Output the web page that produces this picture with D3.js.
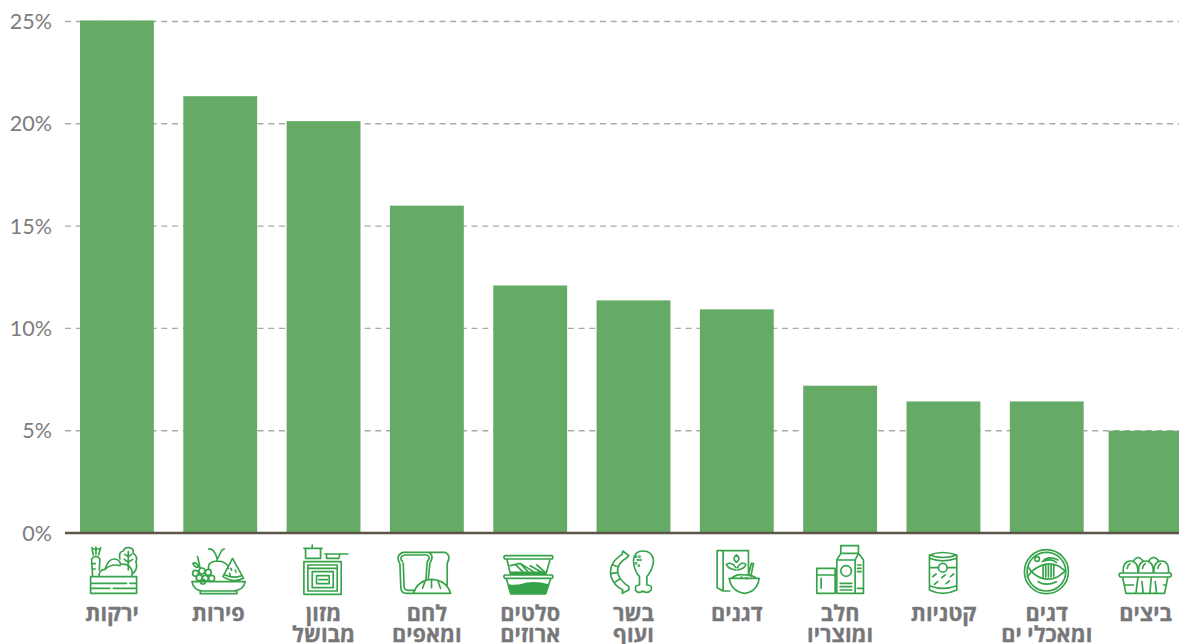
<!DOCTYPE html>
<html lang="he">
<head>
<meta charset="utf-8">
<script src="https://cdn.jsdelivr.net/npm/d3@7"></script>
<style>
  html, body { margin: 0; padding: 0; background: #fff; overflow: hidden; }
  svg { display: block; }
  .tick text { font-family: Lato, sans-serif; font-size: 21.5px; fill: #7d7d80; }
  .cat { font-family: "Open Sans", "Liberation Sans", sans-serif; font-size: 21.7px; font-weight: 700; fill: #77777a; stroke: #77777a; stroke-width: 0.3; }
  .icon { fill: none; stroke: #36a34a; stroke-width: 5; stroke-linejoin: round; stroke-linecap: round; }
</style>
</head>
<body>
<svg></svg>
<script>
// categories, two-line labels split with |
const categories = ["ירקות", "פירות", "מזון|מבושל", "לחם|ומאפים", "סלטים|ארוזים", "בשר|ועוף", "דגנים", "חלב|ומוצריו", "קטניות", "דגים|ומאכלי ים", "ביצים"];
const values = [25.05, 21.35, 20.13, 16.0, 12.1, 11.37, 10.93, 7.2, 6.43, 6.43, 5.0];
const tickValues = [0, 5, 10, 15, 20, 25];

// icons are drawn in 3x units, anchored on the middle of their bar
const icons = [
  { ax: 141, d: "M62 125H200V175H62Z M62 145H170M180 145H200 M62 160H120M130 160H200 M68 125L65 72Q78 56 90 72L88 105 M70 60L66 38 M78 58V36 M86 60L92 38 M68 42H92 M65 86H76 M66 102H76 M88 125Q85 105 105 103Q115 70 135 72Q150 75 152 88Q175 85 182 100Q190 110 185 125 M105 103Q125 85 150 92 M150 72Q145 50 160 48Q165 35 178 38Q192 40 190 55Q205 65 198 80Q205 100 190 115 M175 50V105 M175 65L165 58 M175 65L185 58 M175 82L163 73 M175 82L188 73" },
  { ax: 450, d: "M365 140H525Q520 165 490 168H395Q370 165 365 140Z M390 168V176H500V168 M382 65L390 100 M368 85Q378 80 385 95Q375 100 368 85 M415 100Q412 80 440 78Q470 78 475 100 M440 75L455 45L462 42 M415 42Q432 40 440 70 M487 70L520 130Q490 145 458 125Z M465 120Q490 132 513 122 M482 100l2 6 M495 105l2 6 M478 115l2 5", circles: [[376, 115, 9], [395, 108, 9], [414, 112, 9], [387, 128, 9], [405, 130, 9], [424, 130, 9], [398, 140, 7]] },
  { ax: 759, d: "M700 80H812V178H700Z M712 90H800V168H712Z M712 100H800 M725 110H788V158H725Z M738 122H776V146H738Z M745 134H770 M705 40H750V70H705Z M700 40H755 M725 40V30 M763 57H832 M768 58V70H805L808 58" },
  { ax: 1071, d: "M990 85Q975 60 1000 52H1075Q1095 60 1080 85L1075 135 M990 85L993 160Q995 175 1010 175H1035 M1075 52H1125Q1145 60 1132 85V150 M998 80Q985 65 1005 60H1070Q1085 65 1072 80L1068 135 M1000 85L1003 158Q1005 166 1015 166H1036 M1030 175Q1045 135 1085 133Q1130 135 1142 175Z M1065 140L1058 160 M1085 138V158 M1105 140L1112 160" },
  { ax: 180, d: "M104 62H246Q250 67 246 72H104Q98 67 104 62Z M110 72L120 115H228L240 72 M104 120H246Q250 125 246 130H104Q98 125 104 120Z M108 130L122 176H226L242 130 M120 92L150 85L175 112 M135 88L160 112 M150 85L190 110 M180 92L215 112 M200 90L225 112 M122 112H222", fill: "M115 150Q140 155 170 145Q200 140 235 150L226 176H122Z" },
  { ax: 492, d: "M458 58Q415 85 425 125Q432 150 460 165 M472 68Q440 85 445 115Q450 135 478 155 M458 58L460 48L478 62L472 68 M460 165L458 175L478 165V155 M430 90l15 5 M427 115l15 -2 M438 140l13 -8 M520 48Q495 48 492 75Q492 105 510 125V150Q495 150 498 165Q505 178 520 168Q535 178 545 165Q550 150 532 150V125Q552 100 552 75Q548 48 520 48Z", dots: [[500, 65], [510, 65], [505, 75], [513, 75], [500, 85], [508, 92]] },
  { ax: 801, d: "M742 47H836V120 M742 47V158L760 168H780 M760 47V168 M800 82Q785 70 800 60Q815 70 800 82 M798 105Q770 100 770 88Q785 78 798 98 M803 105Q828 100 828 88Q812 78 803 98 M778 130H868Q862 170 825 175Q785 170 778 130Z M785 130Q800 115 825 120Q845 118 860 130 M835 122L845 85L851 86L843 124", dots: [[815, 128], [830, 130]] },
  { ax: 120, d: "M50 100H105V175H50Z M53 120H102 M63 130V160 M122 32H175V55H122Z M122 55L110 75V175H190V75L175 55 M110 75H165L175 55 M165 75V175 M120 145H155 M120 155H155 M120 165H155 M172 90H183 M172 100H183 M172 110H183 M172 160H190", circles: [[138, 108, 16]] },
  { ax: 432, d: "M390 60Q430 45 472 60V165Q430 185 390 165Z M390 70Q430 85 472 70 M390 60Q430 75 472 60 M390 152Q430 168 472 152 M390 98H417 M443 98H472 M400 125l10 -8 M427 128l10 -8 M453 125l10 -8 M405 148l10 -8 M440 146l10 -8", circles: [[430, 98, 13]] },
  { ax: 741, d: "M695 110Q735 75 775 92L797 108L775 125Q730 145 695 110 M695 110L685 95 M695 110L683 125 M730 92V125 M738 90V126 M746 90V126 M754 90V125 M762 90V124 M728 80Q745 60 775 75 M735 78Q755 70 770 82 M715 140Q740 155 770 140", circles: [[740, 110, 66], [740, 110, 58], [712, 72, 7]] },
  { ax: 1041, d: "M965 114H1115Q1122 120 1115 126H965Q958 120 965 114Z M972 126L982 175H1098L1108 126 M1018 128L1012 175 M1030 140L1034 175 M1058 128L1054 175 M1070 140L1074 175 M978 150H1005 M1095 150H1102 M974 114Q972 78 996 78Q1019 78 1018 114 M1020 114Q1018 78 1042 78Q1065 78 1064 114 M1066 114Q1064 78 1089 78Q1112 78 1110 114 M1004 79Q1018 56 1034 79 M1050 79Q1065 56 1081 79 M986 100Q987 90 994 86 M1032 100Q1033 90 1040 86 M1078 100Q1079 90 1086 86" }
];

const width = 1179, height = 644;
const svg = d3.select("svg").attr("width", width).attr("height", height);

const x = d3.scaleBand().domain(categories).range([80, 1187]).paddingInner(0.285).paddingOuter(0);
const y = d3.scaleLinear().domain([0, 25]).range([533, 21.5]);

// the last bar sits a bit closer to its neighbour in the original
const last = categories[categories.length - 1];
const barX = c => x(c) - (c === last ? 4.5 : 0);
const mid = c => barX(c) + x.bandwidth() / 2;

const yAxis = d3.axisLeft(y)
  .tickValues(tickValues)
  .tickFormat(d => d + "%")
  .tickSize(-(width - 65))
  .tickPadding(13)
  .offset(0);

const axisG = svg.append("g").attr("transform", "translate(65,0)").call(yAxis);
axisG.select(".domain").remove();
axisG.selectAll(".tick line")
  .attr("stroke", "#a9a9a9")
  .attr("stroke-width", 1.4)
  .attr("stroke-dasharray", "6 4.7");
axisG.selectAll(".tick text").attr("dy", "0.35em");

svg.selectAll("rect.bar")
  .data(categories)
  .enter()
  .append("rect")
  .attr("class", "bar")
  .attr("x", d => barX(d))
  .attr("y", (d, i) => y(values[i]))
  .attr("width", x.bandwidth())
  .attr("height", (d, i) => y(0) - y(values[i]))
  .attr("fill", "#66ab65");

svg.append("line")
  .attr("x1", 65).attr("x2", width)
  .attr("y1", y(0)).attr("y2", y(0))
  .attr("stroke", "#5b5548")
  .attr("stroke-width", 2.5);

// icons
const iconG = svg.selectAll("g.icon")
  .data(categories)
  .enter()
  .append("g")
  .attr("class", "icon")
  .attr("transform", (d, i) => `translate(${mid(d)},535) scale(${1 / 3}) translate(${-icons[i].ax},0)`);

iconG.append("path").attr("d", (d, i) => icons[i].d);
iconG.filter((d, i) => icons[i].fill).append("path")
  .attr("d", (d) => icons[categories.indexOf(d)].fill)
  .attr("fill", "#36a34a");
iconG.each(function (d, i) {
  const g = d3.select(this);
  (icons[i].circles || []).forEach(c => g.append("circle").attr("cx", c[0]).attr("cy", c[1]).attr("r", c[2]));
  (icons[i].dots || []).forEach(c => g.append("circle").attr("cx", c[0]).attr("cy", c[1]).attr("r", 1.5));
});

// labels, first two sit a little left of their bar
const labelNudge = [-5, -2];
const labels = svg.selectAll("text.cat")
  .data(categories)
  .enter()
  .append("text")
  .attr("class", "cat")
  .attr("text-anchor", "middle")
  .attr("direction", "rtl")
  .attr("transform", (d, i) => `translate(${mid(d) + (labelNudge[i] || 0)},620.5)`);

labels.selectAll("tspan")
  .data(d => d.split("|"))
  .enter()
  .append("tspan")
  .attr("x", 0)
  .attr("y", (d, i) => i * 21)
  .text(d => d);
</script>
</body>
</html>
